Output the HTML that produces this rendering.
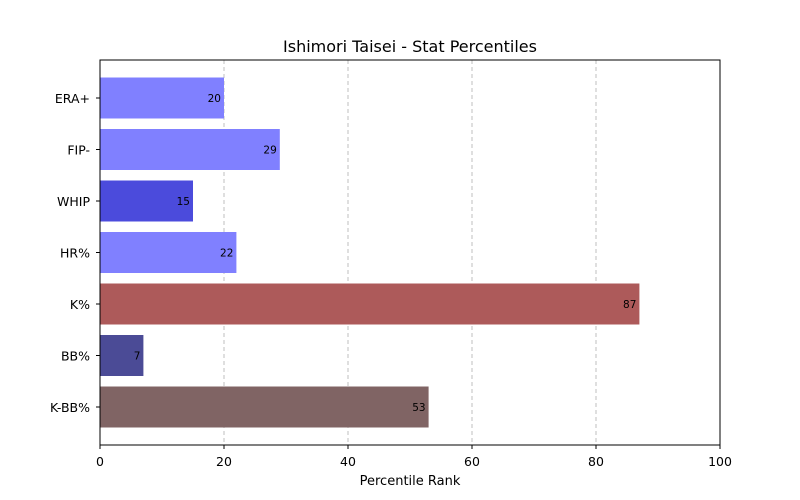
<!DOCTYPE html>
<html><head><meta charset="utf-8"><style>
html,body{margin:0;padding:0;background:#fff;overflow:hidden;width:800px;height:500px;font-family:"Liberation Sans","DejaVu Sans",sans-serif;}
svg{display:block;}
svg text{font-family:"DejaVu Sans","Liberation Sans",sans-serif;}
</style></head><body>
<svg id="chart" width="800" height="500" xmlns="http://www.w3.org/2000/svg">
<rect width="800" height="500" fill="#fff"/>
<text x="410" y="52" font-size="16" text-anchor="middle">Ishimori Taisei - Stat Percentiles</text>
<g id="grid"></g><g id="bars"></g><g id="axes"></g>
<rect x="100" y="60" width="620" height="385" fill="none" stroke="#000" stroke-width="1"/>
<text x="410" y="485" font-size="13" text-anchor="middle">Percentile Rank</text>
</svg>
<script>
const categories=["ERA+","FIP-","WHIP","HR%","K%","BB%","K-BB%"];
const values=[20,29,15,22,87,7,53];
const colors=["#8080ff","#8080ff","#4b4bdc","#8080ff","#ad5a5a","#4b4b96","#806464"];
const xTicks=[0,20,40,60,80,100];
const NS="http://www.w3.org/2000/svg";
const x=v=>100+v*6.2;
const y=i=>98+i*51.5;
const bh=41;
function mk(t,a,p){const e=document.createElementNS(NS,t);for(const k in a)e.setAttribute(k,a[k]);p.appendChild(e);return e;}
const grid=document.getElementById('grid'),bars=document.getElementById('bars'),axes=document.getElementById('axes');
xTicks.forEach(t=>{
 if(t>0&&t<100){const g=mk('line',{x1:x(t),x2:x(t),y1:60,y2:445,stroke:'#b0b0b0','stroke-dasharray':'4,3','stroke-width':0.8},grid);
 
 }
 const tk=mk('line',{x1:x(t),x2:x(t),y1:445,y2:449,stroke:'#000'},axes);
 
 
 const l=mk('text',{x:x(t),y:466,'font-size':12.5,'text-anchor':'middle'},axes);l.textContent=t;
 
 
});
categories.forEach((c,i)=>{
 const r=mk('rect',{x:x(0),y:y(i)-bh/2,width:x(values[i])-x(0),height:bh,fill:colors[i]},bars);
 
 
 const v=mk('text',{x:x(values[i])-3,y:y(i)+4,'font-size':10.5,'text-anchor':'end'},bars);v.textContent=values[i];
 
 
 const tk=mk('line',{x1:96,x2:100,y1:y(i),y2:y(i),stroke:'#000'},axes);
 
 
 const l=mk('text',{x:90,y:y(i)+5,'font-size':12.5,'text-anchor':'end'},axes);l.textContent=c;
 
 
});
</script>
</body></html>
